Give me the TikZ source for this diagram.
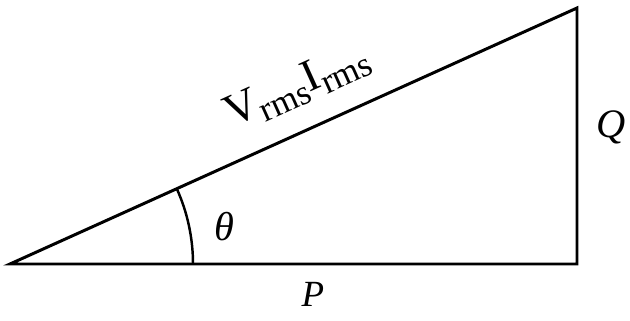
\documentclass[tikz,border=0pt]{standalone}
\usepackage{fontspec}
\setmainfont{Liberation Serif}
\usetikzlibrary{positioning,calc}

\begin{document}
\begin{tikzpicture}
\useasboundingbox (0,0) rectangle (12.6,6.4);
\tikzset{side/.style={line width=1.7pt,line join=miter},
  lbl/.style={font=\fontsize{21}{24}\selectfont\itshape,inner sep=0pt}}
\newcommand{\rmssub}{\raisebox{-0.45ex}{\fontsize{20}{22}\selectfont rms}}
% Corners of the power triangle
\coordinate (A) at (0.2,1.12);
\coordinate (B) at (11.54,1.12);
\coordinate (C) at (11.54,6.24);
% Sides
\draw[side] (A) -- (B) -- (C) -- cycle;
% Angle arc
\draw[line width=1.4pt] ($(A)+(3.66,0)$) arc[start angle=0,end angle=24.3,radius=3.66];
% Labels
\node[lbl] (p) at (6.26,0.52) {P};
\node[lbl,font=\fontsize{23}{26}\selectfont\itshape] (q) at (12.22,3.86) {Q};
\node[lbl,font=\fontsize{23}{26}\selectfont\itshape] (th) at (4.48,1.86) {θ};
\node[font=\fontsize{26}{30}\selectfont,inner sep=0pt,rotate=24.3] (s) at (5.95,4.67)
  {V\rmssub\kern-0.5pt I\rmssub};
\end{tikzpicture}
\end{document}
